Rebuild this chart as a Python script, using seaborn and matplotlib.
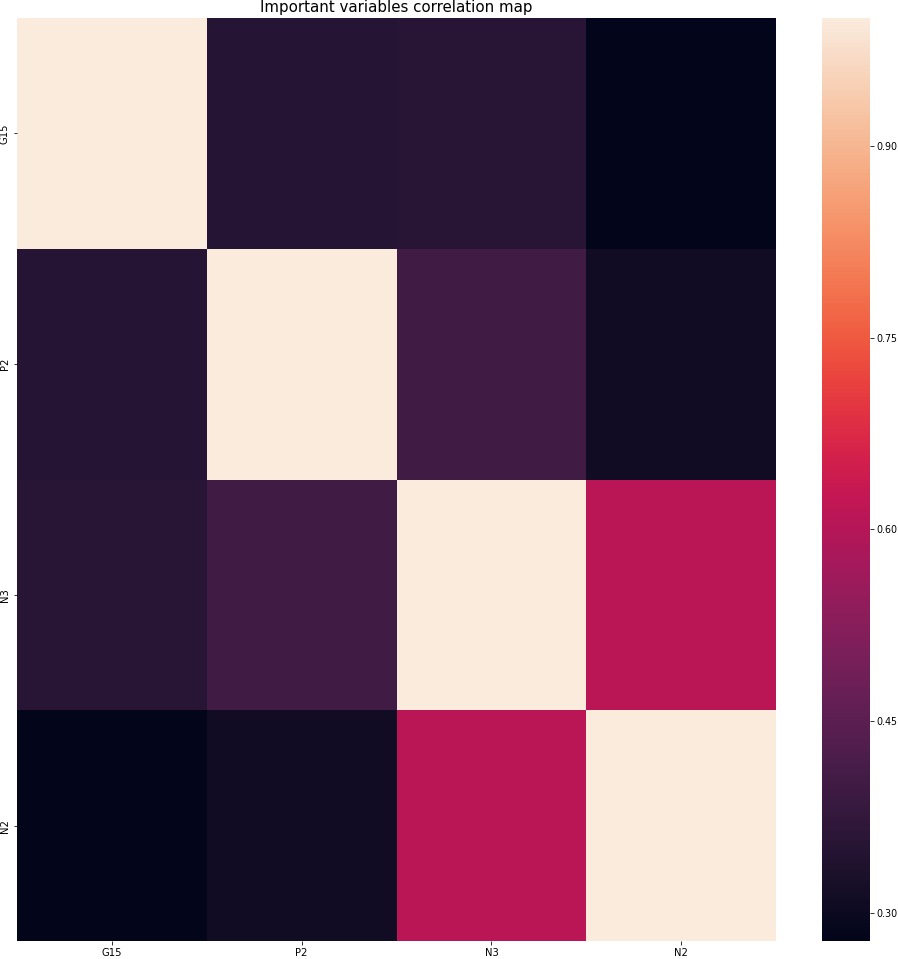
#!/usr/bin/env python3
import numpy as np
import pandas as pd
import seaborn as sns
import matplotlib.pyplot as plt

variables = ['G15', 'P2', 'N3', 'N2']
row_g15 = [1.00, 0.350, 0.355, 0.278]
row_p2 = [0.350, 1.00, 0.400, 0.310]
row_n3 = [0.355, 0.400, 1.00, 0.610]
row_n2 = [0.278, 0.310, 0.610, 1.00]
cbar_ticks = [0.30, 0.45, 0.60, 0.75, 0.90]

corr = pd.DataFrame([row_g15, row_p2, row_n3, row_n2], index=variables, columns=variables)

fig = plt.figure(figsize=(898 / 72, 959 / 72), dpi=72)
ax = fig.add_axes([17 / 898, 18 / 959, 759 / 898, 923 / 959])
cax = fig.add_axes([822 / 898, 18 / 959, 48 / 898, 923 / 959])

sns.heatmap(corr, ax=ax, cbar_ax=cax, cmap='rocket',
            cbar_kws={'ticks': cbar_ticks, 'format': '%.2f'})
ax.set_title('Important variables correlation map', fontsize=15)
ax.set_xticklabels(variables, fontsize=10, rotation=0)
ax.set_yticklabels(variables, fontsize=10, rotation=90, va='center')
cax.tick_params(labelsize=9.5, pad=2.5)

fig.savefig('out.png', dpi=72)
